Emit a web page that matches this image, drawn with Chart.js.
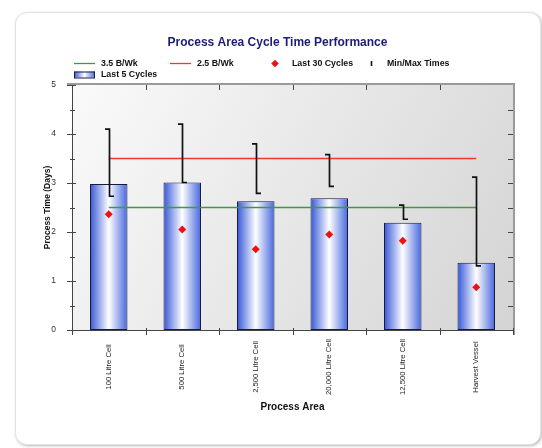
<!DOCTYPE html>
<html><head><meta charset="utf-8">
<script src="https://cdn.jsdelivr.net/npm/chart.js@4.4.1/dist/chart.umd.min.js"></script>
<style>
html,body{margin:0;padding:0;background:#fff;}
#wrap{position:relative;width:542px;height:448px;overflow:hidden;}
#card{position:absolute;left:15px;top:12px;width:524px;height:431px;border:1px solid #e3e3e3;border-radius:12px;box-shadow:1px 1px 3px rgba(0,0,0,0.28);background:#fff;}
#c{position:absolute;left:0;top:0;}
</style></head><body>
<div id="wrap"><div id="card"></div><canvas id="c" width="542" height="448"></canvas></div>
<script>
// ---- data ----
const categories = ["100 Litre Cell", "500 Litre Cell", "2,500 Litre Cell", "20,000 Litre Cell", "12,500 Litre Cell", "Harvest Vessel"];
const last5Cycles = [2.98, 3.01, 2.63, 2.69, 2.19, 1.37];
const last30Cycles = [2.36, 2.05, 1.65, 1.95, 1.82, 0.87];
const minTimes = [2.73, 3.01, 2.79, 2.93, 2.26, 1.31];
const maxTimes = [4.10, 4.20, 3.80, 3.58, 2.55, 3.12];
const line35BWk = [2.5, 2.5, 2.5, 2.5, 2.5, 2.5];
const line25BWk = [3.5, 3.5, 3.5, 3.5, 3.5, 3.5];
const yTickValues = [0, 1, 2, 3, 4, 5];

const FONT = '"Liberation Sans", Arial, sans-serif';
const BAR_PCT = 0.51;

function barGradient(ctx, x0, x1) {
  if (!isFinite(x0) || !isFinite(x1) || x1 <= x0) return '#4466dd';
  const g = ctx.createLinearGradient(x0, 0, x1, 0);
  g.addColorStop(0, '#3556d6');
  g.addColorStop(0.5, '#ffffff');
  g.addColorStop(1, '#4667de');
  return g;
}

const plotBg = {
  id: 'plotBg',
  beforeDraw(chart) {
    const {ctx, chartArea: a} = chart;
    if (!a) return;
    const g = ctx.createLinearGradient(a.left, a.top, a.right, a.bottom);
    g.addColorStop(0, '#fafafa');
    g.addColorStop(1, '#d4d4d4');
    ctx.save();
    ctx.fillStyle = g;
    ctx.fillRect(a.left, a.top, a.right - a.left, a.bottom - a.top);
    ctx.restore();
  }
};

const frame = {
  id: 'frame',
  afterDatasetsDraw(chart) {
    const {ctx, chartArea: a, scales: {x, y}} = chart;
    ctx.save();
    // min/max brackets
    ctx.strokeStyle = '#111';
    ctx.lineWidth = 1.7;
    for (let i = 0; i < categories.length; i++) {
      const cx = Math.round(x.getPixelForValue(i)) + 0.5;
      const yMax = y.getPixelForValue(maxTimes[i]);
      const yMin = y.getPixelForValue(minTimes[i]);
      ctx.beginPath();
      ctx.moveTo(cx - 4.5, yMax);
      ctx.lineTo(cx, yMax);
      ctx.lineTo(cx, yMin);
      ctx.lineTo(cx + 4.5, yMin);
      ctx.stroke();
    }
    // axes frame
    ctx.lineWidth = 2;
    ctx.strokeStyle = '#9a9a9a';
    ctx.beginPath();
    ctx.moveTo(a.left - 5, a.top - 1);
    ctx.lineTo(a.right + 1, a.top - 1);
    ctx.lineTo(a.right + 1, a.bottom + 5);
    ctx.stroke();
    ctx.lineWidth = 1;
    ctx.strokeStyle = '#444';
    ctx.beginPath();
    ctx.moveTo(a.left + 0.5, a.top);
    ctx.lineTo(a.left + 0.5, a.bottom + 5);
    ctx.moveTo(a.left - 5, a.bottom + 0.5);
    ctx.lineTo(a.right, a.bottom + 0.5);
    ctx.stroke();
    // y ticks
    const yt = y.ticks.map(t => t.value);
    ctx.beginPath();
    for (let i = 0; i < yt.length; i++) {
      const py = Math.round(y.getPixelForValue(yt[i])) + 0.5;
      ctx.moveTo(a.left - 5, py); ctx.lineTo(a.left + 4, py);
      if (i < yt.length - 1) {
        const mid = (yt[i] + yt[i + 1]) / 2;
        const pm = Math.round(y.getPixelForValue(mid)) + 0.5;
        ctx.moveTo(a.left - 2, pm); ctx.lineTo(a.left + 3, pm);
      }
    }
    // right side inner ticks
    for (let i = 0; i < yt.length; i++) {
      const vals = [yt[i]];
      if (i < yt.length - 1) vals.push((yt[i] + yt[i + 1]) / 2);
      vals.forEach(v => {
        if (v <= y.min || v >= y.max) return;
        const py = Math.round(y.getPixelForValue(v)) + 0.5;
        ctx.moveTo(a.right - 5, py); ctx.lineTo(a.right, py);
      });
    }
    // x boundary ticks
    const band = (a.right - a.left) / categories.length;
    for (let i = 0; i <= categories.length; i++) {
      const px = Math.round(x.getPixelForValue(i) - band / 2) + 0.5;
      ctx.moveTo(px, a.bottom - 2); ctx.lineTo(px, a.bottom + 5);
      if (i > 0 && i < categories.length) {
        ctx.moveTo(px, a.top); ctx.lineTo(px, a.top + 5);
      }
    }
    ctx.stroke();
    // category labels
    ctx.fillStyle = '#222';
    ctx.font = '7.7px ' + FONT;
    ctx.textAlign = 'center';
    ctx.textBaseline = 'middle';
    for (let i = 0; i < categories.length; i++) {
      const cx = x.getPixelForValue(i);
      ctx.save();
      ctx.translate(cx, a.bottom + 37);
      ctx.rotate(-Math.PI / 2);
      ctx.fillText(categories[i], 0, 0);
      ctx.restore();
    }
    ctx.restore();
  }
};

const customLegend = {
  id: 'customLegend',
  afterDraw(chart) {
    const {ctx, chartArea: a} = chart;
    const col0 = a.left + 2, colW = 96;
    const r1 = 63.5, r2 = 74.5;
    ctx.save();
    ctx.font = 'bold 8.8px ' + FONT;
    ctx.fillStyle = '#111';
    ctx.textBaseline = 'middle';
    ctx.textAlign = 'left';
    const items = chart.data.datasets;
    // item 1: green line
    ctx.lineWidth = 1.3;
    ctx.strokeStyle = items[1].borderColor;
    ctx.beginPath(); ctx.moveTo(col0, r1); ctx.lineTo(col0 + 21, r1); ctx.stroke();
    ctx.fillText(items[1].label, col0 + 27, r1);
    // item 2: red line
    ctx.strokeStyle = items[2].borderColor;
    ctx.beginPath(); ctx.moveTo(col0 + colW, r1); ctx.lineTo(col0 + colW + 21, r1); ctx.stroke();
    ctx.fillText(items[2].label, col0 + colW + 27, r1);
    // item 3: diamond
    const dx = col0 + 2 * colW + 9;
    ctx.fillStyle = '#ee1111';
    ctx.beginPath();
    ctx.moveTo(dx, r1 - 3.8); ctx.lineTo(dx + 3.8, r1); ctx.lineTo(dx, r1 + 3.8); ctx.lineTo(dx - 3.8, r1); ctx.closePath();
    ctx.fill();
    ctx.fillStyle = '#111';
    ctx.fillText(items[0].label, col0 + 2 * colW + 26, r1);
    // item 4: min/max tick
    const tx = col0 + 3 * colW + 9.5;
    ctx.strokeStyle = '#111'; ctx.lineWidth = 1.6;
    ctx.beginPath(); ctx.moveTo(tx, r1 - 2.5); ctx.lineTo(tx, r1 + 2.5); ctx.stroke();
    ctx.fillText('Min/Max Times', col0 + 3 * colW + 25, r1);
    // row 2: bar
    ctx.fillStyle = barGradient(ctx, col0, col0 + 21);
    ctx.fillRect(col0, r2 - 3, 21, 6);
    ctx.strokeStyle = '#1a1a3a'; ctx.lineWidth = 1;
    ctx.strokeRect(col0 + 0.5, r2 - 3 + 0.5, 20, 6);
    ctx.fillStyle = '#111';
    ctx.fillText(items[3].label, col0 + 27, r2);
    ctx.restore();
  }
};

new Chart(document.getElementById('c'), {
  data: {
    labels: categories,
    datasets: [
      {
        type: 'line', label: 'Last 30 Cycles', data: last30Cycles, order: 0,
        showLine: false, pointStyle: 'rectRot', pointRadius: 4,
        backgroundColor: '#ee1111', borderColor: '#ee1111', borderWidth: 0
      },
      {
        type: 'line', label: '3.5 B/Wk', data: line35BWk, order: 1,
        borderColor: '#3f9a3f', borderWidth: 1.5, pointRadius: 0, fill: false
      },
      {
        type: 'line', label: '2.5 B/Wk', data: line25BWk, order: 2,
        borderColor: '#f23535', borderWidth: 1.3, pointRadius: 0, fill: false
      },
      {
        type: 'bar', label: 'Last 5 Cycles', data: last5Cycles, order: 10,
        barPercentage: BAR_PCT, categoryPercentage: 1,
        borderColor: '#1a1a3a', borderWidth: 1, borderSkipped: false,
        backgroundColor: (c) => {
          const xs = c.chart.scales.x;
          if (!xs || c.dataIndex === undefined) return '#4466dd';
          const cx = xs.getPixelForValue(c.dataIndex);
          const half = xs.width / categories.length * BAR_PCT / 2;
          return barGradient(c.chart.ctx, cx - half, cx + half);
        }
      }
    ]
  },
  options: {
    responsive: false,
    animation: false,
    events: [],
    layout: { padding: { left: 42, right: 29, top: 0, bottom: 30 } },
    plugins: {
      legend: { display: false },
      tooltip: { enabled: false },
      title: {
        display: true,
        text: 'Process Area Cycle Time Performance',
        color: '#1c1c78',
        font: { family: FONT, size: 12, weight: 'bold' },
        padding: { top: 35, bottom: 35.6 }
      }
    },
    scales: {
      x: {
        type: 'category',
        offset: true,
        grid: { display: false },
        border: { display: false },
        ticks: { display: false },
        title: {
          display: true, text: 'Process Area', color: '#111',
          font: { family: FONT, size: 10, weight: 'bold' },
          padding: { top: 0, bottom: 5 }
        },
        afterFit(s) { s.height = 88; }
      },
      y: {
        min: 0, max: 5,
        afterBuildTicks(s) { s.ticks = yTickValues.map(v => ({ value: v })); },
        grid: { display: false },
        border: { display: false },
        ticks: { color: '#333', padding: 8, font: { family: FONT, size: 8.5 } },
        title: {
          display: true, text: 'Process Time (Days)', color: '#111',
          font: { family: FONT, size: 8.5, weight: 'bold' },
          padding: { top: 1, bottom: 0 }
        },
        afterFit(s) { s.width = 30; }
      }
    }
  },
  plugins: [plotBg, frame, customLegend]
});
</script>
</body></html>
